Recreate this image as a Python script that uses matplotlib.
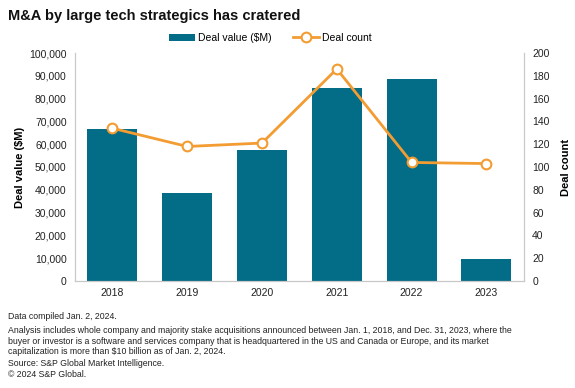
import matplotlib.pyplot as plt
import numpy as np

years = ['2018', '2019', '2020', '2021', '2022', '2023']
deal_value = [66500, 38400, 57400, 84600, 88400, 9500]
deal_count = [134, 118, 121, 186, 104, 103]

bar_color = '#036C87'
line_color = '#F39C32'
grid_color = '#C8C8C8'

plt.rcParams['font.family'] = ['Liberation Sans', 'DejaVu Sans']

fig = plt.figure(figsize=(5.75, 3.88), dpi=100)
ax = fig.add_axes([0.1304, 0.2758, 0.7806, 0.5876])
ax2 = ax.twinx()

x = np.arange(len(years))
ax.bar(x, deal_value, width=0.67, color=bar_color, label='Deal value ($M)', zorder=2)
ax2.plot(x, deal_count, color=line_color, lw=2, marker='o', ms=7,
         mfc='white', mec=line_color, mew=1.5, label='Deal count', zorder=3)

ax.set_xlim(-0.5, 5.5)
ax.set_ylim(0, 100000)
ax2.set_ylim(0, 200)
ax.set_xticks(x)
ax.set_xticklabels(years)
ax.set_yticks(np.arange(0, 100001, 10000))
ax.set_yticklabels([f'{v:,}' for v in range(0, 100001, 10000)])
ax2.set_yticks(np.arange(0, 201, 20))

for a in (ax, ax2):
    a.tick_params(length=0, labelsize=7.5, colors='#222222', pad=6)
    a.spines['top'].set_visible(False)
    for s in ('left', 'right', 'bottom'):
        a.spines[s].set_color(grid_color)
        a.spines[s].set_linewidth(0.8)
ax.tick_params(axis='x', pad=5)

ax.set_ylabel('Deal value ($M)', fontsize=8, fontweight='bold', labelpad=3)
ax2.set_ylabel('Deal count', fontsize=8, fontweight='bold', labelpad=8)

h1, l1 = ax.get_legend_handles_labels()
h2, l2 = ax2.get_legend_handles_labels()
fig.legend(h1 + h2, l1 + l2, loc='center', bbox_to_anchor=(0.47, 0.902), ncol=2,
           frameon=False, fontsize=7.5, handlelength=2.5, columnspacing=2.0,
           handletextpad=0.3)

fig.text(0.014, 0.96, 'M&A by large tech strategics has cratered', fontsize=10.5,
         fontweight='bold', va='center', color='#111111')

notes = [
    (0.183, 'Data compiled Jan. 2, 2024.'),
    (0.121, 'Analysis includes whole company and majority stake acquisitions announced between Jan. 1, 2018, and Dec. 31, 2023, where the\n'
            'buyer or investor is a software and services company that is headquartered in the US and Canada or Europe, and its market\n'
            'capitalization is more than $10 billion as of Jan. 2, 2024.'),
    (0.064, 'Source: S&P Global Market Intelligence.'),
    (0.034, '\u00a9 2024 S&P Global.'),
]
for y, t in notes:
    fig.text(0.014, y, t, fontsize=6.3, va='center', color='#222222', linespacing=1.25)

fig.savefig('out.png', dpi=100)
